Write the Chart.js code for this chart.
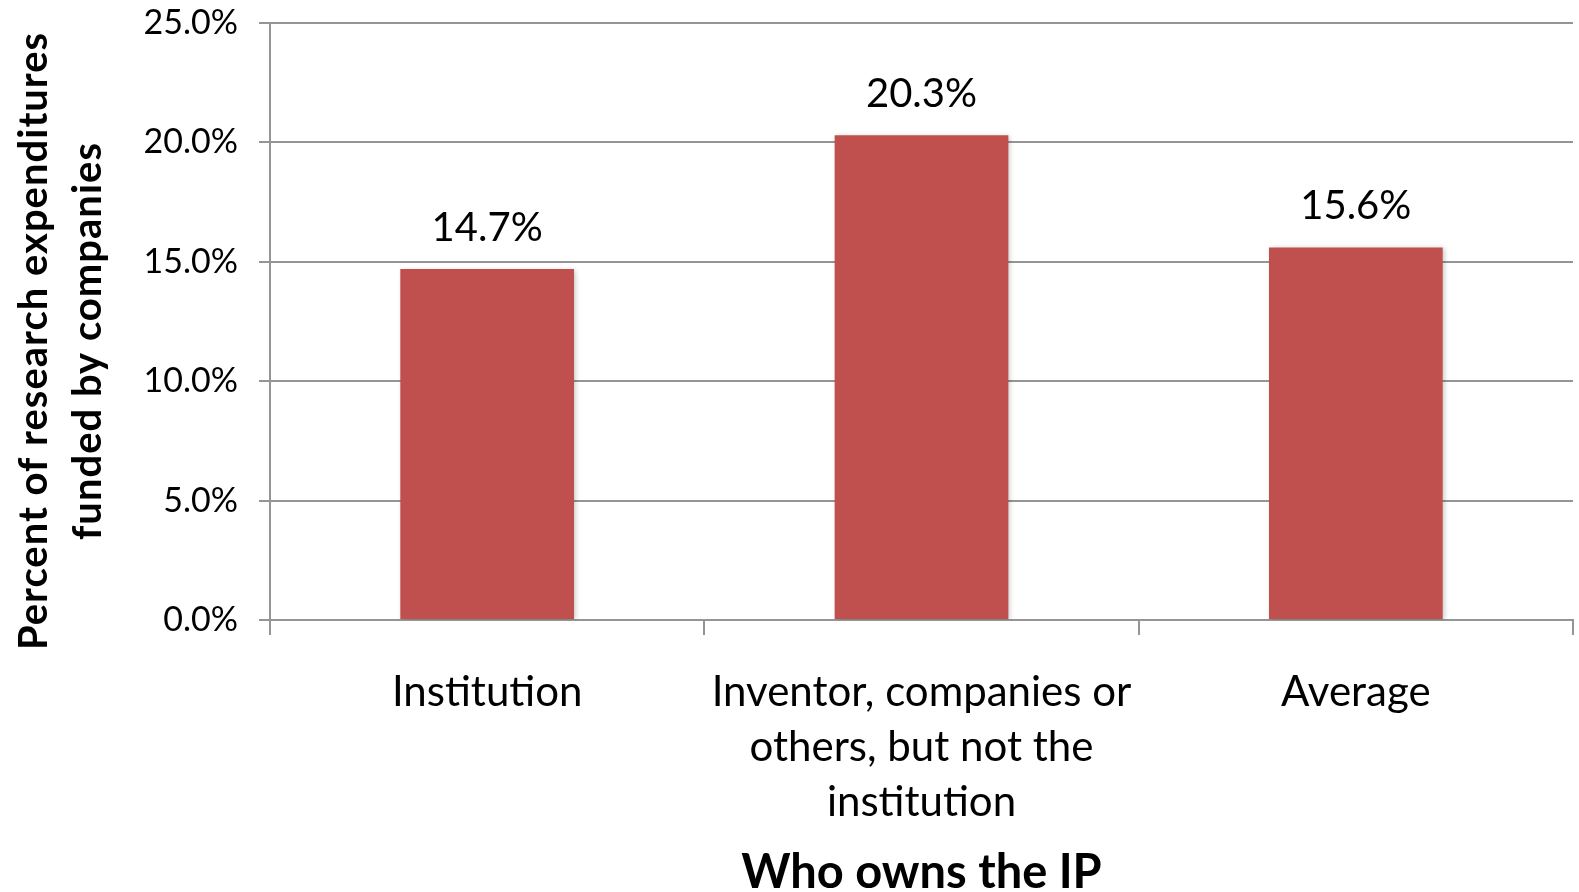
<!DOCTYPE html>
<html>
<head>
<meta charset="utf-8">
<script src="https://cdn.jsdelivr.net/npm/chart.js@4.4.1/dist/chart.umd.min.js"></script>
<style>
  html, body { margin: 0; padding: 0; background: #fff; }
  canvas { display: block; }
</style>
</head>
<body>
<canvas id="ipChart" width="1579" height="892"></canvas>
<script>
// Share of research expenditures funded by companies, by IP owner
const categories = [
    'Institution',
    ['Inventor, companies or', 'others, but not the', 'institution'],
    'Average'
];
const fundedShare = [14.7, 20.3, 15.6];
const yTicks = [0, 5, 10, 15, 20, 25];
const yTitleLines = ['Percent of research expenditures', 'funded by companies'];
const xTitle = 'Who owns the IP';

const FONT = 'Lato, "Open Sans", sans-serif';
const GRID = '#959595';

// value labels above each bar
const barLabels = {
    id: 'barLabels',
    afterDatasetsDraw(chart) {
        const ctx = chart.ctx;
        const meta = chart.getDatasetMeta(0);
        ctx.save();
        ctx.font = '40px ' + FONT;
        ctx.fillStyle = '#000';
        ctx.textAlign = 'center';
        ctx.textBaseline = 'middle';
        meta.data.forEach((bar, i) => {
            ctx.fillText(fundedShare[i].toFixed(1) + '%', bar.x, bar.y - 41);
        });
        ctx.restore();
    }
};

// two-line rotated y axis title
const yTitle = {
    id: 'yTitle',
    afterDraw(chart) {
        const ctx = chart.ctx;
        ctx.save();
        ctx.font = 'bold 40px ' + FONT;
        ctx.letterSpacing = '1px';
        ctx.fillStyle = '#000';
        ctx.textAlign = 'center';
        ctx.textBaseline = 'alphabetic';
        ctx.translate(0, 341);
        ctx.rotate(-Math.PI / 2);
        yTitleLines.forEach((line, i) => {
            ctx.fillText(line, 0, 47 + i * 54);
        });
        ctx.restore();
    }
};

// soft shadow under the bars
const barShadow = {
    id: 'barShadow',
    beforeDatasetsDraw(chart) {
        const ctx = chart.ctx;
        ctx.save();
        ctx.shadowColor = 'rgba(0,0,0,0.22)';
        ctx.shadowBlur = 5;
        ctx.shadowOffsetX = 2;
        ctx.shadowOffsetY = 1;
    },
    afterDatasetsDraw(chart) {
        chart.ctx.restore();
    }
};

new Chart(document.getElementById('ipChart'), {
    type: 'bar',
    data: {
        labels: categories,
        datasets: [{
            data: fundedShare,
            backgroundColor: '#C0504D',
            borderWidth: 0,
            barPercentage: 0.4,
            categoryPercentage: 1.0
        }]
    },
    options: {
        responsive: false,
        animation: false,
        layout: { padding: { top: 23, right: 6, bottom: 0, left: 0 } },
        plugins: {
            legend: { display: false },
            tooltip: { enabled: false }
        },
        scales: {
            x: {
                afterFit(scale) { scale.height = 272; },
                grid: {
                    offset: true,
                    drawOnChartArea: false,
                    drawTicks: true,
                    tickLength: 15,
                    color: GRID,
                    lineWidth: 2
                },
                border: { color: GRID, width: 2 },
                ticks: {
                    color: '#000',
                    padding: 30,
                    maxRotation: 0,
                    autoSkip: false,
                    font: { family: FONT, size: 42, lineHeight: 1.31 }
                },
                title: {
                    display: true,
                    text: xTitle,
                    color: '#000',
                    padding: { top: 0, bottom: 0 },
                    font: { family: FONT, size: 47, weight: 'bold', lineHeight: 0.8 }
                }
            },
            y: {
                min: 0,
                max: 25,
                afterFit(scale) {
                    scale.width = 270;
                    scale.paddingTop = 0;
                    scale.paddingBottom = 0;
                },
                afterBuildTicks(scale) {
                    scale.ticks = yTicks.map(v => ({ value: v }));
                },
                grid: {
                    color: GRID,
                    lineWidth: 2,
                    tickLength: 11
                },
                border: { color: GRID, width: 2 },
                ticks: {
                    color: '#000',
                    padding: 21,
                    font: { family: FONT, size: 34 },
                    callback: v => v.toFixed(1) + '%'
                }
            }
        }
    },
    plugins: [barShadow, barLabels, yTitle]
});
</script>
</body>
</html>
